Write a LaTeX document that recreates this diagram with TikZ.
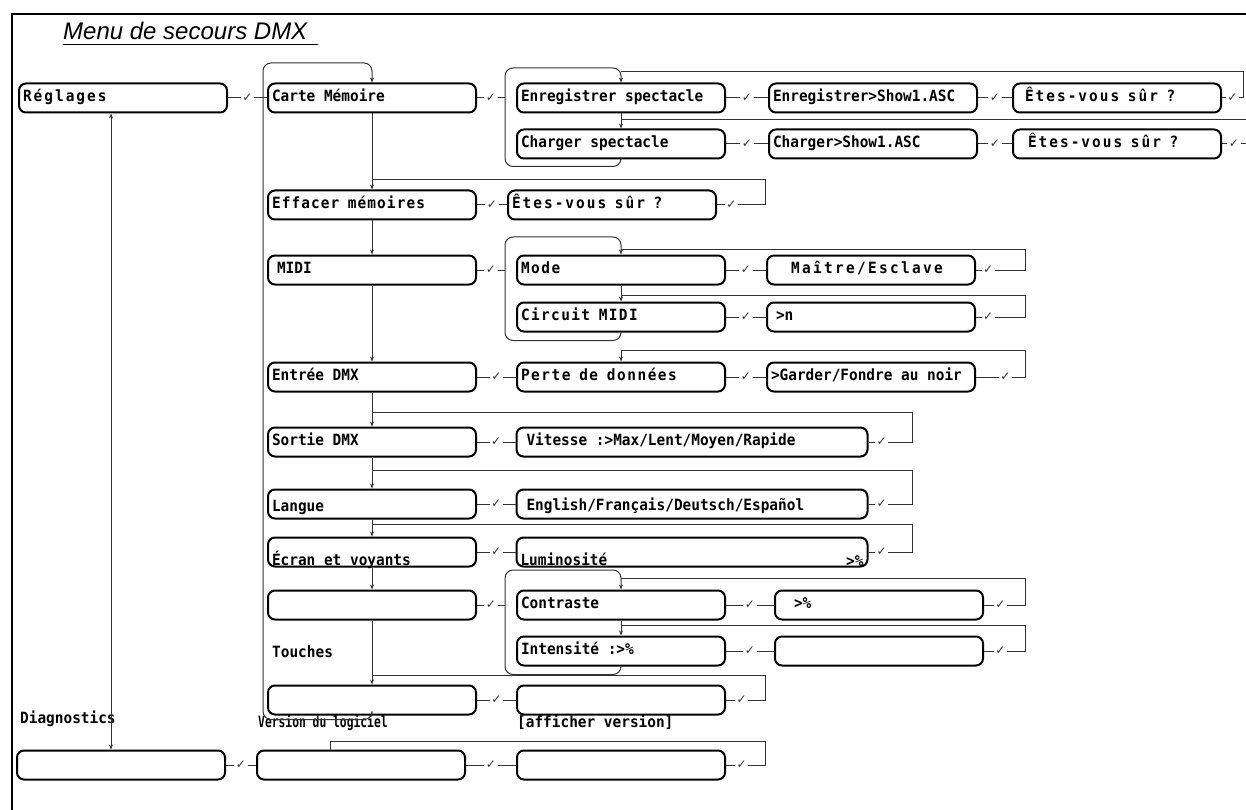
\documentclass[tikz,border=0pt]{standalone}
\usepackage{fontspec}
\setmainfont{DejaVu Sans Mono}[FakeStretch=0.93]
\newfontfamily\titlefont{Liberation Sans}
\newfontfamily\checkfont{DejaVu Sans}
\usetikzlibrary{calc,arrows.meta}
\newcommand\monospc{\setbox0\hbox{x}\spaceskip=\wd0\relax}
\newcommand\spaced[2]{{\addfontfeature{LetterSpace=#1}\monospc #2}}
\newcommand\narrow[1]{{\addfontfeature{FakeStretch=0.73}\monospc #1}}

\tikzset{
  box/.style={draw, line width=2pt, rounded corners=7pt,
    minimum width=208pt, minimum height=29pt, inner xsep=4pt, inner ysep=0pt,
    text width=200pt, align=left, text height=10pt, text depth=3pt,
    font=\fontsize{15.5}{16}\selectfont\bfseries, execute at begin node=\monospc},
  widebox/.style={box, minimum width=351pt, text width=343pt},
  lbl/.style={anchor=base west, inner sep=0pt, font=\fontsize{15.5}{16}\selectfont\bfseries,
    execute at begin node=\monospc},
  chk/.style={fill=white, inner sep=1.5pt, text=black!80, font=\checkfont\fontsize{12}{12}\selectfont},
  wire/.style={line width=1pt, draw=black!80},
}

\begin{document}
\begin{tikzpicture}[x=1pt, y=-1pt, >={Stealth[length=5pt,width=4pt]}]
\useasboundingbox (0,0) rectangle (1246,810);
% frame and title
\draw[line width=1.8pt] (12,810) -- (12,14) -- (1246,14);
\node[anchor=base west, inner sep=0pt, font=\titlefont\itshape\fontsize{24}{24}\selectfont] (title) at (63,40) {Menu de secours DMX};
\draw[line width=1.2pt] ([yshift=-4.5pt]title.base west) -- ++(255,0);

% first level
\node[box] (reglages) at (123,98) {\spaced{13}{Réglages}};
\node[box] (diag) at (121,765) {};
\node[lbl] (diaglbl) at (20,723) {Diagnostics};

% second level
\node[box] (carte) at (372,98) {Carte Mémoire};
\node[box] (effacer) at (372,205) {\spaced{7}{Effacer mémoires}};
\node[box] (midi) at (372,270) {\hspace*{5pt}MIDI};
\node[box] (entree) at (372,377) {Entrée DMX};
\node[box] (sortie) at (372,442) {Sortie DMX};
\node[box] (langue) at (372,504) {\raisebox{-4pt}{Langue}};
\node[box] (ecran) at (372,552) {\raisebox{-10pt}{Écran et voyants}};
\node[box] (touches) at (372,605) {};
\node[lbl] (toucheslbl) at (272,657) {Touches};
\node[box] (version) at (372,700) {};
\node[lbl] (versionlbl) at (258,727) {\narrow{Version du logiciel}};
\node[box] (diagb) at (361,765) {};

% third level
\node[box] (enreg) at (621,98) {Enregistrer spectacle};
\node[box] (chg) at (621,144) {Charger spectacle};
\node[box] (efetes) at (612,205) {\spaced{13}{Êtes-vous sûr ?}};
\node[box] (mode) at (621,270) {\spaced{10}{Mode}};
\node[box] (circuit) at (621,317) {\spaced{9}{Circuit MIDI}};
\node[box] (perte) at (621,377) {\spaced{10}{Perte de données}};
\node[widebox] (vitesse) at (692,442) {\hspace*{6pt}Vitesse :>Max/Lent/Moyen/Rapide};
\node[widebox] (langues) at (692,504) {\hspace*{6pt}\raisebox{-3pt}{English/Français/Deutsch/Español}};
\node[widebox] (lumin) at (692,552) {\raisebox{-10pt}{Luminosité}\hfill\raisebox{-11pt}{>\%}\hspace*{53pt}};
\node[box] (contraste) at (621,605) {Contraste};
\node[box] (intens) at (621,651) {Intensité :>\%};
\node[box] (verinfo) at (621,700) {};
\node[lbl] (verinfolbl) at (517,727) {[afficher version]};
\node[box] (diagc) at (621,765) {};

% fourth and fifth level
\node[box] (enrshow) at (873,98) {Enregistrer>Show1.ASC};
\node[box] (chgshow) at (873,144) {Charger>Show1.ASC};
\node[box] (maitre) at (871,270) {\hspace*{20pt}\spaced{15}{Maître/Esclave}};
\node[box] (canal) at (871,317) {\hspace*{5pt}>n};
\node[box] (garder) at (871,377) {>Garder/Fondre au noir};
\node[box] (contpct) at (879,605) {\hspace*{15pt}>\%};
\node[box] (intpct) at (879,651) {};
\node[box] (etes1) at (1117,98) {\hspace*{8pt}\spaced{13}{Êtes-vous sûr ?}};
\node[box] (etes2) at (1117,144) {\hspace*{11pt}\spaced{13}{Êtes-vous sûr ?}};

% group entries
\coordinate (cartegrp) at (505,98);
\coordinate (midigrp) at (505,270);
\coordinate (touchgrp) at (505,605);

% links with check
\foreach \a/\b in {reglages/carte, enreg/enrshow, enrshow/etes1, chg/chgshow, chgshow/etes2,
    effacer/efetes, mode/maitre, circuit/canal, entree/perte, perte/garder, sortie/vitesse,
    langue/langues, ecran/lumin, contraste/contpct, intens/intpct, version/verinfo,
    diag/diagb, diagb/diagc}
  \draw[wire] (\a.east) -- node[chk]{✓} (\b.west);
\foreach \a/\b in {carte/cartegrp, midi/midigrp, touches/touchgrp}
  \draw[wire] (\a.east) -- node[chk]{✓} (\b);

% down the columns
\foreach \a/\b in {carte/effacer, effacer/midi, midi/entree, entree/sortie, sortie/langue,
    langue/ecran, ecran/touches, touches/version, enreg/chg, mode/circuit, contraste/intens}
  \draw[wire,->] (\a) -- (\b);

% loops back to first item
\draw[wire,->,rounded corners=8pt] (version.south) -- ++(0,4) -| (263,63) -| (carte.north);
\draw[wire,->,rounded corners=8pt] (chg.south) -- ++(0,7) -| (505,68) -| (enreg.north);
\draw[wire,->,rounded corners=8pt] (circuit.south) -- ++(0,8) -| (505,237) -| (mode.north);
\draw[wire,->,rounded corners=8pt] (intens.south) -- ++(0,8) -| (505,570) -| (contraste.north);

\coordinate (rg) at ([xshift=-12pt]reglages.south);
\draw[wire,<->] (rg) -- (rg |- diag.north);

% return lines
\draw[wire] (etes1.east) -- node[chk]{✓} (1243,98) |- (enreg.north |- 0,72);
\draw[wire] (etes2.east) -- node[chk]{✓} (1246,144);
\draw[wire] (chg.north |- 0,120) -- (1246,120);
\draw[wire] (efetes.east) -- node[chk,pos=.3]{✓} (765,205) |- (carte.south |- 0,180);
\draw[wire] (maitre.east) -- node[chk,pos=.25]{✓} (1025,270) |- (mode.north |- 0,249);
\draw[wire] (canal.east) -- node[chk,pos=.25]{✓} (1025,317) |- (circuit.north |- 0,295);
\draw[wire,->] (garder.east) -- node[chk,pos=.6]{✓} (1025,377) |- (perte.north |- 0,350) -- (perte.north);
\draw[wire] (vitesse.east) -- node[chk,pos=.3]{✓} (912,442) |- (sortie.north |- 0,412);
\draw[wire] (langues.east) -- node[chk,pos=.3]{✓} (912,504) |- (langue.north |- 0,470);
\draw[wire] (lumin.east) -- node[chk,pos=.3]{✓} (912,552) |- (ecran.north |- 0,524);
\draw[wire] (contpct.east) -- node[chk,pos=.4]{✓} (1025,605) |- (contraste.north |- 0,578);
\draw[wire] (intpct.east) -- node[chk,pos=.4]{✓} (1025,651) |- (intens.north |- 0,625);
\draw[wire] (verinfo.east) -- node[chk,pos=.4]{✓} (765,700) |- (version.north |- 0,675);
\coordinate (dtop) at ([xshift=-31pt]diagb.north);
\draw[wire] (diagc.east) -- node[chk,pos=.4]{✓} (765,765) |- (dtop |- 0,741) -- (dtop);
\end{tikzpicture}
\end{document}
